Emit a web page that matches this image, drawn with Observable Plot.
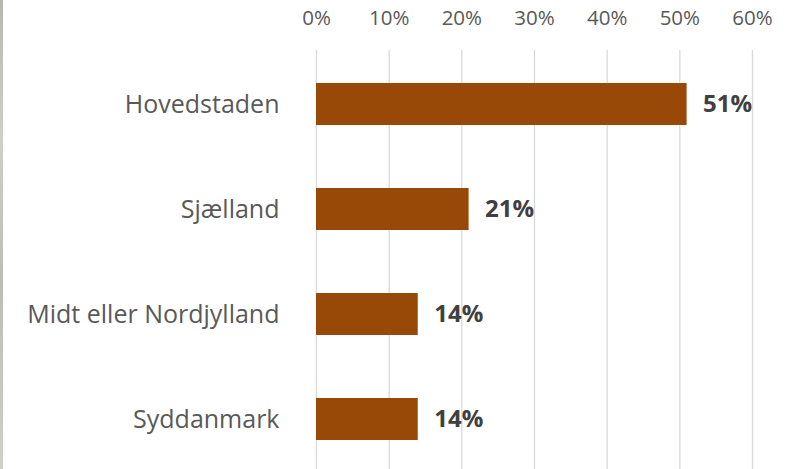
<!DOCTYPE html>
<html><head><meta charset="utf-8">
<script src="https://cdn.jsdelivr.net/npm/d3@7"></script>
<script src="https://cdn.jsdelivr.net/npm/@observablehq/plot@0.6"></script>
<style>
html,body{margin:0;padding:0;background:#fff;}
body{width:791px;height:469px;overflow:hidden;position:relative;}
#edge{position:absolute;left:0;top:0;width:3px;height:469px;background:linear-gradient(#b8b8b0,#cfcfc8 30%,#bdbdb5 60%,#d0d0c8);}
#chart{position:absolute;left:0;top:0;}
</style></head>
<body><div id="edge"></div><div id="chart"></div>
<script>
const regions = ["Hovedstaden", "Sjælland", "Midt eller Nordjylland", "Syddanmark"];
const shares = [51, 21, 14, 14];
const ticks = [0, 10, 20, 30, 40, 50, 60];

const data = regions.map((r, i) => ({region: r, value: shares[i]}));
const font = "'Open Sans', 'Noto Sans', sans-serif";

const chart = Plot.plot({
  width: 791,
  height: 469,
  marginLeft: 316,
  marginRight: 39,
  marginTop: 50,
  marginBottom: 0,
  style: {fontFamily: font, background: "transparent", overflow: "visible"},
  x: {domain: [0, 60], range: [316, 752], ticks: ticks, tickFormat: d => d + "%", label: null},
  y: {domain: regions, range: [50, 473], paddingInner: 0.6, paddingOuter: 0.3, label: null},
  marks: [
    Plot.ruleX(ticks, {stroke: "#d9d9d9", strokeWidth: 1.3}),
    Plot.barX(data, {x: "value", y: "region", fill: "#984807"}),
    Plot.text(data, {x: "value", y: "region", text: d => d.value + "%", dx: 16, textAnchor: "start",
      fontSize: 24, fontWeight: "bold", fill: "#404040"}),
    Plot.axisX({anchor: "top", ticks: ticks, tickFormat: d => d + "%", tickSize: 0, tickPadding: 26,
      fontSize: 20.5, color: "#595959", label: null}),
    Plot.axisY({anchor: "left", tickSize: 0, tickPadding: 37, fontSize: 25, color: "#595959", label: null})
  ]
});
document.getElementById("chart").appendChild(chart);
</script></body></html>
